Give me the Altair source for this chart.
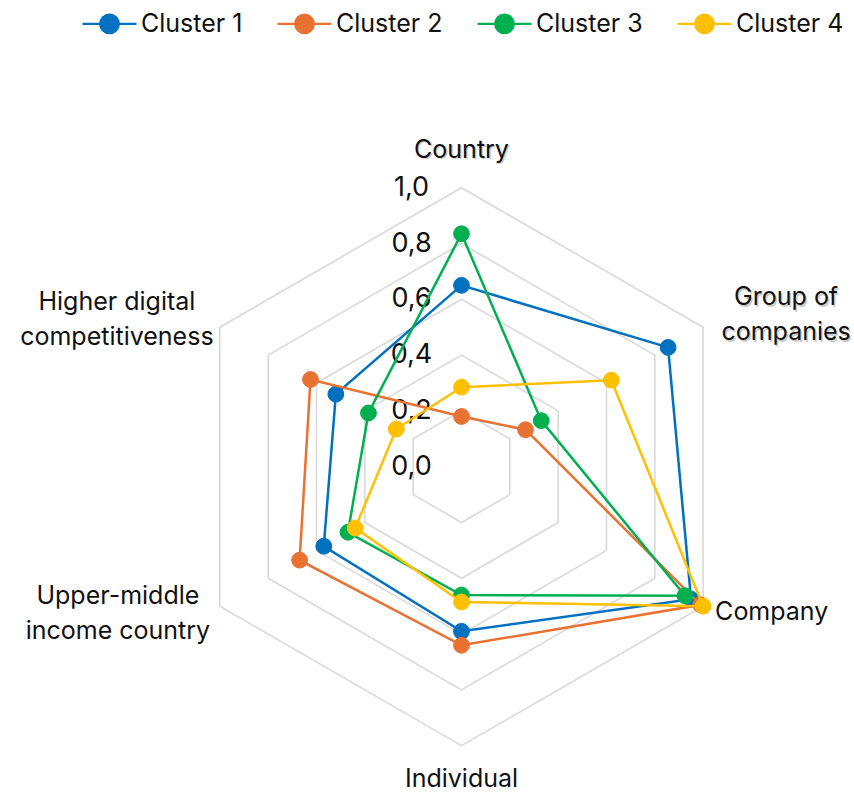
import altair as alt
import pandas as pd

# ---- data -------------------------------------------------------------
categories = ["Country", "Group of companies", "Company", "Individual",
              "Upper-middle income country", "Higher digital competitiveness"]
category_lines = [["Country"], ["Group of", "companies"], ["Company"], ["Individual"],
                  ["Upper-middle", "income country"], ["Higher digital", "competitiveness"]]

cluster_names = ["Cluster 1", "Cluster 2", "Cluster 3", "Cluster 4"]
cluster_1 = [0.65, 0.855, 0.95, 0.59, 0.57, 0.52]
cluster_2 = [0.18, 0.265, 0.99, 0.64, 0.67, 0.625]
cluster_3 = [0.835, 0.33, 0.925, 0.46, 0.47, 0.385]
cluster_4 = [0.285, 0.62, 1.0, 0.485, 0.44, 0.27]
cluster_colors = ["#0070C0", "#E97132", "#00B050", "#FFC000"]

ring_levels = [0.2, 0.4, 0.6, 0.8, 1.0]
tick_values = [0.0, 0.2, 0.4, 0.6, 0.8, 1.0]
tick_labels = ["0,0", "0,2", "0,4", "0,6", "0,8", "1,0"]

# ---- tables -----------------------------------------------------------
n_axes = len(categories)
series_rows = []
for name, vals in zip(cluster_names, [cluster_1, cluster_2, cluster_3, cluster_4]):
    for k in range(n_axes + 1):  # repeat first spoke to close the polygon
        series_rows.append({"cluster": name, "idx": k, "value": vals[k % n_axes]})
series_df = pd.DataFrame(series_rows)

grid_df = pd.DataFrame([{"level": lv, "idx": k, "value": lv}
                        for lv in ring_levels for k in range(n_axes + 1)])
tick_df = pd.DataFrame({"value": tick_values, "label": tick_labels, "idx": 0})
cat_df = pd.DataFrame({"idx": list(range(n_axes)), "lines": category_lines, "value": 1.0})

# ---- layout -----------------------------------------------------------
W, H = 854, 792
CX, CY, R = 461.5, 466.7, 279.0
FONT = "Inter"
TEXT_COLOR = "#111111"

x_scale = alt.Scale(domain=[-CX / R, (W - CX) / R], nice=False, zero=False)
y_scale = alt.Scale(domain=[-(H - CY) / R, CY / R], nice=False, zero=False)
X = alt.X("x:Q", scale=x_scale, axis=None)
Y = alt.Y("y:Q", scale=y_scale, axis=None)


def polar(chart):
    return chart.transform_calculate(
        angle="PI / 2 - datum.idx * PI / 3",
        x="datum.value * cos(datum.angle)",
        y="datum.value * sin(datum.angle)",
    )


color_scale = alt.Scale(domain=cluster_names, range=cluster_colors)

# legend symbol: a short line with a dot in the middle
LEGEND_SYMBOL = ("M-1,0L1,0M-0.345,0A0.345,0.345,0,1,1,0.345,0"
                 "A0.345,0.345,0,1,1,-0.345,0Z")
legend = alt.Legend(
    title=None, orient="none", legendX=81, legendY=-5, direction="horizontal",
    symbolType=LEGEND_SYMBOL, symbolSize=2916, symbolStrokeWidth=2.2,
    symbolOpacity=1, labelFont=FONT, labelFontSize=25, labelColor=TEXT_COLOR,
    labelOffset=3, columnPadding=30, padding=0,
)

# ---- grid rings -------------------------------------------------------
grid = polar(alt.Chart(grid_df)).mark_line(
    color="#D9D9D9", strokeWidth=1.6
).encode(x=X, y=Y, detail="level:N", order="idx:Q")

ticks = polar(alt.Chart(tick_df)).mark_text(
    font=FONT, fontSize=27, color=TEXT_COLOR, align="center", baseline="middle", dx=-50
).encode(x=X, y=Y, text="label:N")

# ---- series -----------------------------------------------------------
series_layers = []
for name, col in zip(cluster_names, cluster_colors):
    base = polar(alt.Chart(series_df).transform_filter(alt.datum.cluster == name))
    line = base.mark_line(strokeWidth=2.5, color=col).encode(
        x=X, y=Y, order="idx:Q",
    )
    dots = base.transform_filter("datum.idx < 6").mark_point(
        filled=True, size=250, opacity=1, strokeWidth=1
    ).encode(
        x=X, y=Y,
        fill=alt.Fill("cluster:N", scale=color_scale, legend=legend),
        stroke=alt.Stroke("cluster:N", scale=color_scale, legend=legend),
    )
    series_layers += [line, dots]

# ---- category labels --------------------------------------------------
# (align, dx, dy of the first line, drop shadow)
label_style = {
    0: ("center", 0, -38, True),
    1: ("center", 83, -30, True),
    2: ("left", 12, 6, False),
    3: ("center", 0, 33, False),
    4: ("center", -102, -10, False),
    5: ("center", -103, -25, False),
}
label_layers = []
for k, (align, dx, dy, shadow) in label_style.items():
    base = polar(alt.Chart(cat_df).transform_filter(alt.datum.idx == k))
    if shadow:
        label_layers.append(base.mark_text(
            font=FONT, fontSize=25, color="#000000", opacity=0.2, align=align,
            baseline="middle", dx=dx + 1.5, dy=dy + 1.5, lineHeight=35
        ).encode(x=X, y=Y, text="lines:N"))
    label_layers.append(base.mark_text(
        font=FONT, fontSize=25, color=TEXT_COLOR, align=align,
        baseline="middle", dx=dx, dy=dy, lineHeight=35
    ).encode(x=X, y=Y, text="lines:N"))

chart = alt.layer(grid, ticks, *series_layers, *label_layers).properties(
    width=W, height=H, padding=0, autosize="none"
).configure_view(stroke=None)

chart.save("out.html", embed_options={"renderer": "svg", "actions": False})
